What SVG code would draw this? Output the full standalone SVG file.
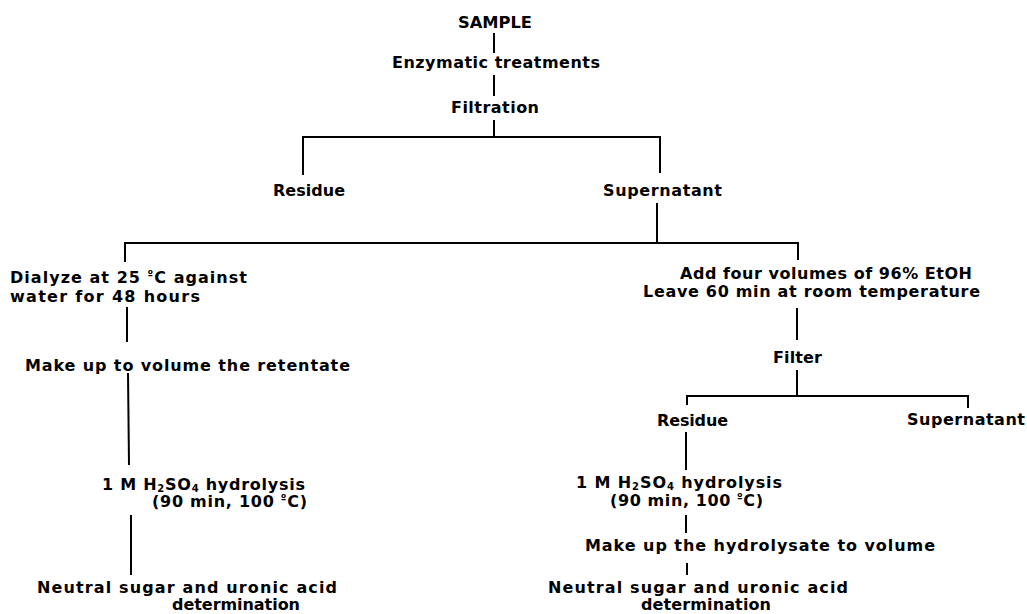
<svg xmlns="http://www.w3.org/2000/svg" width="1027" height="614" viewBox="0 0 1027 614">
<style>
text{font-family:"DejaVu Sans","Liberation Sans",sans-serif;font-weight:bold;font-size:16px;fill:#000}
.sub{font-size:10px}
.sup{font-size:10px}
#connectors line{stroke:#000;stroke-width:2;fill:none}
</style>
<rect width="1027" height="614" fill="#fff"/>
<g id="connectors">
<line x1="494" y1="33" x2="494" y2="53"/>
<line x1="494" y1="75" x2="494" y2="96"/>
<line x1="494" y1="120" x2="494" y2="137"/>
<line x1="303" y1="137" x2="660" y2="137"/>
<line x1="303" y1="136" x2="303" y2="175"/>
<line x1="660" y1="136" x2="660" y2="173"/>
<line x1="657" y1="203" x2="657" y2="243"/>
<line x1="125" y1="243" x2="798" y2="243"/>
<line x1="125" y1="242" x2="125" y2="262"/>
<line x1="798" y1="242" x2="798" y2="260"/>
<line x1="127" y1="307" x2="127" y2="342"/>
<line x1="128" y1="373" x2="129" y2="465"/>
<line x1="131" y1="515" x2="131" y2="575"/>
<line x1="797" y1="308" x2="797" y2="340"/>
<line x1="797" y1="370" x2="797" y2="396"/>
<line x1="687" y1="396" x2="968" y2="396"/>
<line x1="687" y1="395" x2="687" y2="405"/>
<line x1="968" y1="395" x2="968" y2="408"/>
<line x1="686" y1="432" x2="686" y2="470"/>
<line x1="686" y1="515" x2="686" y2="533"/>
<line x1="687" y1="563" x2="687" y2="575"/>
</g>
<g id="n-sample"><text x="458" y="28" textLength="74" lengthAdjust="spacingAndGlyphs">SAMPLE</text></g>
<g id="n-enzymatic"><text x="392" y="68" textLength="208">Enzymatic treatments</text></g>
<g id="n-filtration"><text x="451" y="113" textLength="88">Filtration</text></g>
<g id="n-residue1"><text x="273" y="196" textLength="72">Residue</text></g>
<g id="n-supernatant1"><text x="603" y="196" textLength="119">Supernatant</text></g>
<g id="n-dialyze">
<text x="10" y="283" textLength="237">Dialyze at 25 <tspan class="sup" dy="-5">º</tspan><tspan dy="5">C against</tspan></text>
<text x="10" y="302" textLength="190">water for 48 hours</text>
</g>
<g id="n-makeup1"><text x="25" y="371" textLength="325">Make up to volume the retentate</text></g>
<g id="n-hydrolysis1">
<text x="102" y="490" textLength="203">1 M H<tspan class="sub" dy="2">2</tspan><tspan dy="-2">SO</tspan><tspan class="sub" dy="2">4</tspan><tspan dy="-2"> hydrolysis</tspan></text>
<text x="152" y="507" textLength="155">(90 min, 100 <tspan class="sup" dy="-5">º</tspan><tspan dy="5">C)</tspan></text>
</g>
<g id="n-neutral1">
<text x="37" y="593" textLength="300">Neutral sugar and uronic acid</text>
<text x="172" y="610" textLength="128">determination</text>
</g>
<g id="n-ethanol">
<text x="680" y="279" textLength="292">Add four volumes of 96% EtOH</text>
<text x="643" y="297" textLength="337">Leave 60 min at room temperature</text>
</g>
<g id="n-filter"><text x="773" y="363" textLength="49">Filter</text></g>
<g id="n-residue2"><text x="657" y="426" textLength="71">Residue</text></g>
<g id="n-supernatant2"><text x="907" y="425" textLength="118">Supernatant</text></g>
<g id="n-hydrolysis2">
<text x="576" y="488" textLength="206">1 M H<tspan class="sub" dy="2">2</tspan><tspan dy="-2">SO</tspan><tspan class="sub" dy="2">4</tspan><tspan dy="-2"> hydrolysis</tspan></text>
<text x="610" y="506" textLength="153">(90 min, 100 <tspan class="sup" dy="-5">º</tspan><tspan dy="5">C)</tspan></text>
</g>
<g id="n-makeup2"><text x="585" y="551" textLength="350">Make up the hydrolysate to volume</text></g>
<g id="n-neutral2">
<text x="548" y="593" textLength="300">Neutral sugar and uronic acid</text>
<text x="641" y="610" textLength="130">determination</text>
</g>
</svg>
